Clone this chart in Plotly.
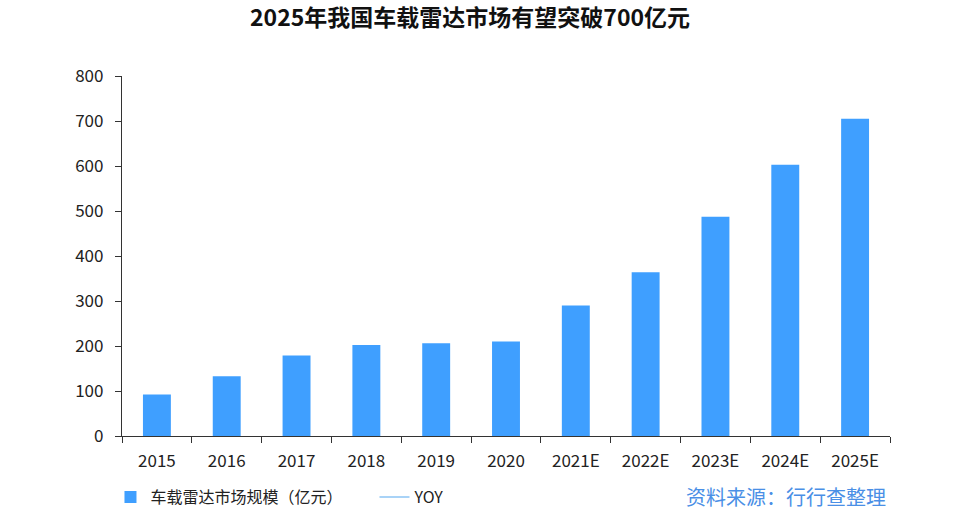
import plotly.graph_objects as go

categories = ["2015", "2016", "2017", "2018", "2019", "2020", "2021E", "2022E", "2023E", "2024E", "2025E"]
market_size = [92, 133, 179, 202, 206, 210, 290, 364, 487, 603, 705]
yoy = [None] * len(categories)  # YOY line is not drawn in the reference, only listed in legend
y_ticks = [0, 100, 200, 300, 400, 500, 600, 700, 800]

FONT = "Noto Sans CJK SC, Noto Sans, DejaVu Sans, sans-serif"
BAR_COLOR = "#3F9FFF"

fig = go.Figure()
fig.add_trace(go.Bar(
    x=categories, y=market_size, name="车载雷达市场规模（亿元）",
    marker=dict(color=BAR_COLOR, line=dict(width=0)),
))
fig.add_trace(go.Scatter(
    x=categories, y=yoy, name="YOY", mode="lines",
    line=dict(color="#A9D3F7", width=2),
))

fig.update_layout(
    width=954, height=521,
    margin=dict(l=122, r=64, t=76, b=85, autoexpand=False),
    paper_bgcolor="white", plot_bgcolor="white",
    font=dict(family=FONT, size=17, color="#222222"),
    title=dict(text="<b>2025年我国车载雷达市场有望突破700亿元</b>",
               x=0.4927, xanchor="center", y=0.9655, yanchor="middle",
               font=dict(size=23, color="#111111", family=FONT)),
    bargap=0.6,
    showlegend=True,
    legend=dict(orientation="h", x=-0.015, xanchor="left",
                y=-0.1694, yanchor="middle",
                font=dict(size=16, color="#222222"), entrywidth=219,
                tracegroupgap=0, bgcolor="rgba(0,0,0,0)"),
)

fig.update_xaxes(
    type="category", showline=True, linecolor="#333333", linewidth=1.2,
    ticks="outside", tickson="boundaries", ticklen=6, tickcolor="#333333",
    showgrid=False, zeroline=False, tickfont=dict(size=17), ticklabelstandoff=9,
)
fig.update_yaxes(
    range=[0, 800], tickvals=y_ticks, showline=True, linecolor="#333333", linewidth=1.2,
    ticks="outside", ticklen=6, tickcolor="#333333", showgrid=False, zeroline=False,
    tickfont=dict(size=17), ticklabelstandoff=8,
)

fig.add_annotation(
    text="资料来源：行行查整理", xref="paper", yref="paper",
    x=0.997, xanchor="right", y=-0.1694, yanchor="middle", showarrow=False,
    font=dict(size=20, color="#4A8FE6", family=FONT),
)

fig.write_html("out.html", config={"displayModeBar": False},
               post_script="document.body.style.margin='0';")
